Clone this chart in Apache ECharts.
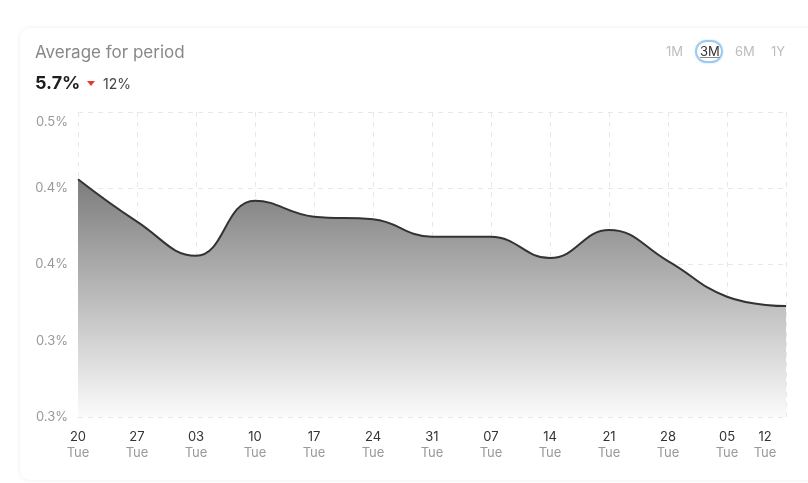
<!DOCTYPE html>
<html>
<head>
<meta charset="utf-8">
<script src="https://cdn.jsdelivr.net/npm/echarts@6/dist/echarts.min.js"></script>
<style>
  html, body { margin: 0; padding: 0; background: #fff; width: 808px; height: 483px; overflow: hidden; font-family: Inter, "Noto Sans", sans-serif; }
  #card { position: absolute; left: 20px; top: 28px; width: 820px; height: 452px; border-radius: 10px; box-shadow: 0 0 4px rgba(0,0,0,0.08); background: #fff; }
  #chart { position: absolute; left: 0; top: 0; width: 808px; height: 483px; }
  .hdr { position: absolute; white-space: nowrap; }
  #title { left: 35px; top: 42px; font-size: 17px; color: #888; }
  #big { left: 35px; top: 72px; font-size: 18px; font-weight: 700; color: #1e1e1e; }
  #tri { left: 87px; top: 81px; width: 0; height: 0; border-left: 4px solid transparent; border-right: 4px solid transparent; border-top: 5px solid #e53935; }
  #pct { left: 103px; top: 75px; font-size: 14px; color: #444; }
  .rng { position: absolute; top: 43px; font-size: 13px; color: #bdbdbd; }
  #r3 { color: #333; text-decoration: underline; text-decoration-color: #888; }
  #ring { position: absolute; left: 695px; top: 40px; width: 24px; height: 19px; border: 2.5px solid #9fcaf0; border-radius: 12px; box-shadow: 0 0 2px rgba(100,160,220,0.4); }
</style>
</head>
<body>
<div id="card"></div>
<div id="chart"></div>
<div class="hdr" id="title">Average for period</div>
<div class="hdr" id="big">5.7%</div>
<div class="hdr" id="tri"></div>
<div class="hdr" id="pct">12%</div>
<div id="ring"></div>
<div class="rng" style="left:666px">1M</div>
<div class="rng" id="r3" style="left:700px">3M</div>
<div class="rng" style="left:735px">6M</div>
<div class="rng" style="left:771px">1Y</div>
<script>
const days = ['20','27','03','10','17','24','31','07','14','21','28','05','12'];
const weekdays = ['Tue','Tue','Tue','Tue','Tue','Tue','Tue','Tue','Tue','Tue','Tue','Tue','Tue'];
const values = [0.4247,0.4025,0.3846,0.4135,0.4051,0.4037,0.3946,0.3945,0.3834,0.3981,0.3818,0.3631,0.3582];
const yMin = 0.30, yMax = 0.46, yStep = 0.04;

const chart = echarts.init(document.getElementById('chart'), null, {renderer: 'canvas'});
const last = days.length - 1;
chart.setOption({
  animation: false,
  grid: { left: 78, right: 22, top: 112, bottom: 66, outerBoundsMode: 'none' },
  xAxis: {
    type: 'category',
    boundaryGap: false,
    data: days,
    axisLine: { show: false },
    axisTick: { show: false },
    splitLine: { show: true, lineStyle: { color: '#e8e8e8', type: [5, 5], width: 1 } },
    axisLabel: {
      interval: 0,
      showMinLabel: true,
      showMaxLabel: true,
      margin: 12,
      formatter: function (v, i) {
        if (i === last) return '{dl|' + v + '}\n{wl|' + weekdays[i] + '}';
        return '{d|' + v + '}\n{w|' + weekdays[i] + '}';
      },
      rich: {
        d: { fontSize: 13, color: '#333', lineHeight: 16, fontFamily: 'Inter' },
        w: { fontSize: 13, color: '#999', lineHeight: 16, fontFamily: 'Inter' },
        dl: { fontSize: 13, color: '#333', lineHeight: 16, fontFamily: 'Inter', padding: [0, 42, 0, 0] },
        wl: { fontSize: 13, color: '#999', lineHeight: 16, fontFamily: 'Inter', padding: [0, 42, 0, 0] }
      }
    }
  },
  yAxis: {
    type: 'value',
    min: yMin,
    max: yMax,
    interval: yStep,
    axisLine: { show: false },
    axisTick: { show: false },
    splitLine: { show: true, lineStyle: { color: '#e8e8e8', type: [5, 5], width: 1 } },
    axisLabel: {
      margin: 10,
      fontSize: 13,
      color: '#999',
      fontFamily: 'Inter',
      formatter: function (v) {
        const s = v.toFixed(1) + '%';
        if (v >= yMax - 1e-9) return '{t|' + s + '}';
        return s;
      },
      rich: {
        t: { fontSize: 13, color: '#999', fontFamily: 'Inter', padding: [20, 0, 0, 0] }
      }
    }
  },
  series: [{
    type: 'line',
    data: values,
    smooth: 0.45,
    symbol: 'none',
    lineStyle: { color: '#333', width: 2 },
    areaStyle: {
      opacity: 1,
      color: new echarts.graphic.LinearGradient(0, 0, 0, 1, [
        { offset: 0, color: '#7c7c7c' },
        { offset: 1, color: '#fbfbfb' }
      ])
    }
  }]
});
</script>
</body>
</html>
